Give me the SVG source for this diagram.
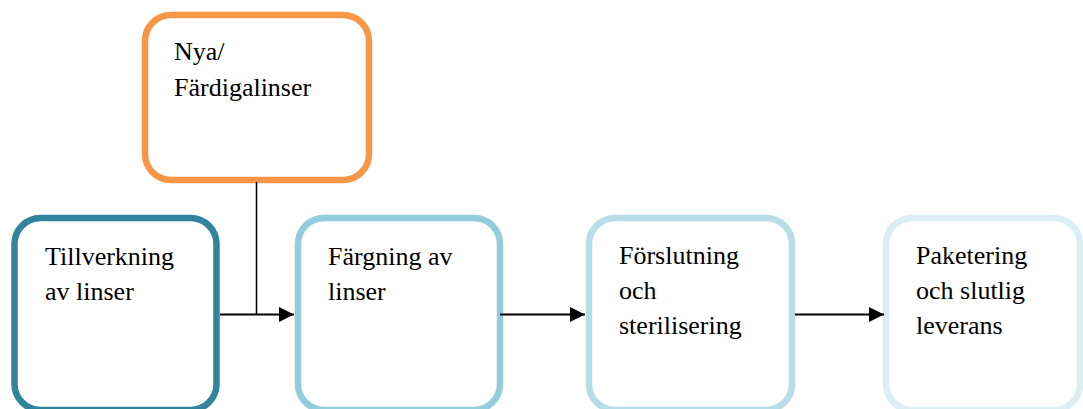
<svg xmlns="http://www.w3.org/2000/svg" width="1083" height="409" viewBox="0 0 1083 409">
<style>
.box{fill:#fff;stroke-width:6.5}
.t{font-family:"Liberation Serif","Times New Roman",serif;font-size:26px;fill:#000}
.c{stroke:#000;stroke-width:2;fill:none}
</style>
<defs>
<marker id="ah" markerWidth="16" markerHeight="16" refX="15" refY="7.5" orient="auto" markerUnits="userSpaceOnUse">
<path d="M0,0 L15,7.5 L0,15 Z" fill="#000"/>
</marker>
</defs>
<rect width="1083" height="409" fill="#fff"/>
<g id="node-nya">
<rect class="box" x="145" y="15" width="224" height="165" rx="26" stroke="#F79646"/>
<text class="t" x="174" y="60">Nya/</text>
<text class="t" x="174" y="96">Färdigalinser</text>
</g>
<g id="node-tillverkning">
<rect class="box" x="14.5" y="218" width="202" height="192" rx="26" stroke="#31849B"/>
<text class="t" x="45" y="265">Tillverkning</text>
<text class="t" x="45" y="300">av linser</text>
</g>
<g id="node-fargning">
<rect class="box" x="298" y="218" width="202" height="192" rx="26" stroke="#92CDDC"/>
<text class="t" x="328" y="265">Färgning av</text>
<text class="t" x="328" y="300">linser</text>
</g>
<g id="node-forslutning">
<rect class="box" x="589" y="218" width="203" height="192" rx="26" stroke="#B6DDE8"/>
<text class="t" x="619" y="264">Förslutning</text>
<text class="t" x="619" y="299">och</text>
<text class="t" x="619" y="334">sterilisering</text>
</g>
<g id="node-paketering">
<rect class="box" x="886" y="218" width="194" height="192" rx="26" stroke="#DAEEF3"/>
<text class="t" x="916" y="264">Paketering</text>
<text class="t" x="916" y="299">och slutlig</text>
<text class="t" x="916" y="334">leverans</text>
</g>
<g id="connectors">
<line x1="256.5" y1="182" x2="256.5" y2="315" stroke="#000" stroke-width="1.5"/>
<line class="c" x1="220" y1="314.5" x2="294" y2="314.5" marker-end="url(#ah)"/>
<line class="c" x1="500" y1="314.5" x2="585" y2="314.5" marker-end="url(#ah)"/>
<line class="c" x1="795" y1="314.5" x2="884" y2="314.5" marker-end="url(#ah)"/>
</g>
</svg>
